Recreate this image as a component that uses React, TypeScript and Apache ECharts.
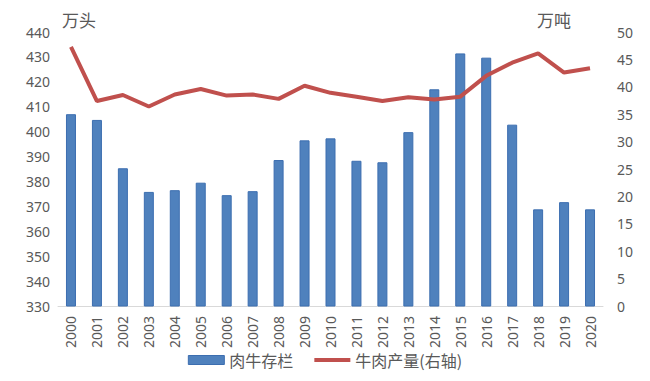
import React, { useEffect, useRef } from "react";
import * as echarts from "echarts";

const years = ["2000","2001","2002","2003","2004","2005","2006","2007","2008","2009","2010","2011","2012","2013","2014","2015","2016","2017","2018","2019","2020"];
const cattleStock = [407, 404.7, 385.3, 375.8, 376.5, 379.5, 374.5, 376.1, 388.6, 396.5, 397.3, 388.3, 387.7, 399.8, 417, 431.4, 429.7, 402.8, 368.8, 371.7, 368.8];
const beefOutput = [47.3, 37.4, 38.5, 36.4, 38.6, 39.6, 38.4, 38.6, 37.8, 40.2, 38.9, 38.2, 37.4, 38.1, 37.7, 38.2, 42.0, 44.4, 46.1, 42.6, 43.4];
const barName = "肉牛存栏";
const lineName = "牛肉产量(右轴)";
const leftUnit = "万头";
const rightUnit = "万吨";

const FONT = "'Noto Sans', 'Noto Sans CJK SC', sans-serif";

export default function App() {
  const ref = useRef<HTMLDivElement>(null);
  useEffect(() => {
    if (!ref.current) return;
    const chart = echarts.init(ref.current, undefined, { renderer: "svg" });
    chart.setOption({
      animation: false,
      textStyle: { fontFamily: FONT },
      graphic: [
        { type: "text", left: 54, top: 3, style: { text: leftUnit, font: `17px 'Noto Sans CJK SC'`, fill: "#595959" } },
        { type: "text", left: 529, top: 3, style: { text: rightUnit, font: `17px 'Noto Sans CJK SC'`, fill: "#595959" } },
      ],
      legend: {
        bottom: 0,
        left: "center",
        itemGap: 21,
        textStyle: { color: "#595959", fontSize: 16, fontFamily: "'Noto Sans CJK SC', sans-serif" },
        symbolKeepAspect: true,
        data: [
          { name: barName, icon: "rect", itemStyle: { color: "#4F81BD", borderColor: "#3C6EB0", borderWidth: 1 } },
          { name: lineName, icon: "path://M0,0L38,0L38,4L0,4Z", itemStyle: { color: "#C0504D" } },
        ],
        itemWidth: 36,
        itemHeight: 9,
      },
      grid: { left: 50, right: 39, top: 24, bottom: 67, containLabel: false },
      xAxis: {
        type: "category",
        data: years,
        axisLine: { lineStyle: { color: "#D9D9D9", width: 1 } },
        axisTick: { show: false },
        axisLabel: { rotate: 90, color: "#595959", fontSize: 14, margin: 10 },
      },
      yAxis: [
        {
          type: "value",
          min: 330,
          max: 440,
          interval: 10,
          splitLine: { show: false },
          axisLine: { show: false },
          axisLabel: { color: "#595959", fontSize: 14, margin: 8 },
        },
        {
          type: "value",
          min: 0,
          max: 50,
          interval: 5,
          splitLine: { show: false },
          axisLine: { show: false },
          axisLabel: { color: "#595959", fontSize: 14, margin: 14 },
        },
      ],
      series: [
        {
          name: barName,
          type: "bar",
          data: cattleStock,
          barWidth: 10,
          itemStyle: { color: "#4F81BD", borderColor: "#3C6EB0", borderWidth: 1 },
        },
        {
          name: lineName,
          type: "line",
          yAxisIndex: 1,
          data: beefOutput,
          symbol: "none",
          lineStyle: { color: "#C0504D", width: 4 },
          itemStyle: { color: "#C0504D" },
        },
      ],
    });
    return () => chart.dispose();
  }, []);
  return <div ref={ref} style={{ width: 634, height: 365 }} />;
}
